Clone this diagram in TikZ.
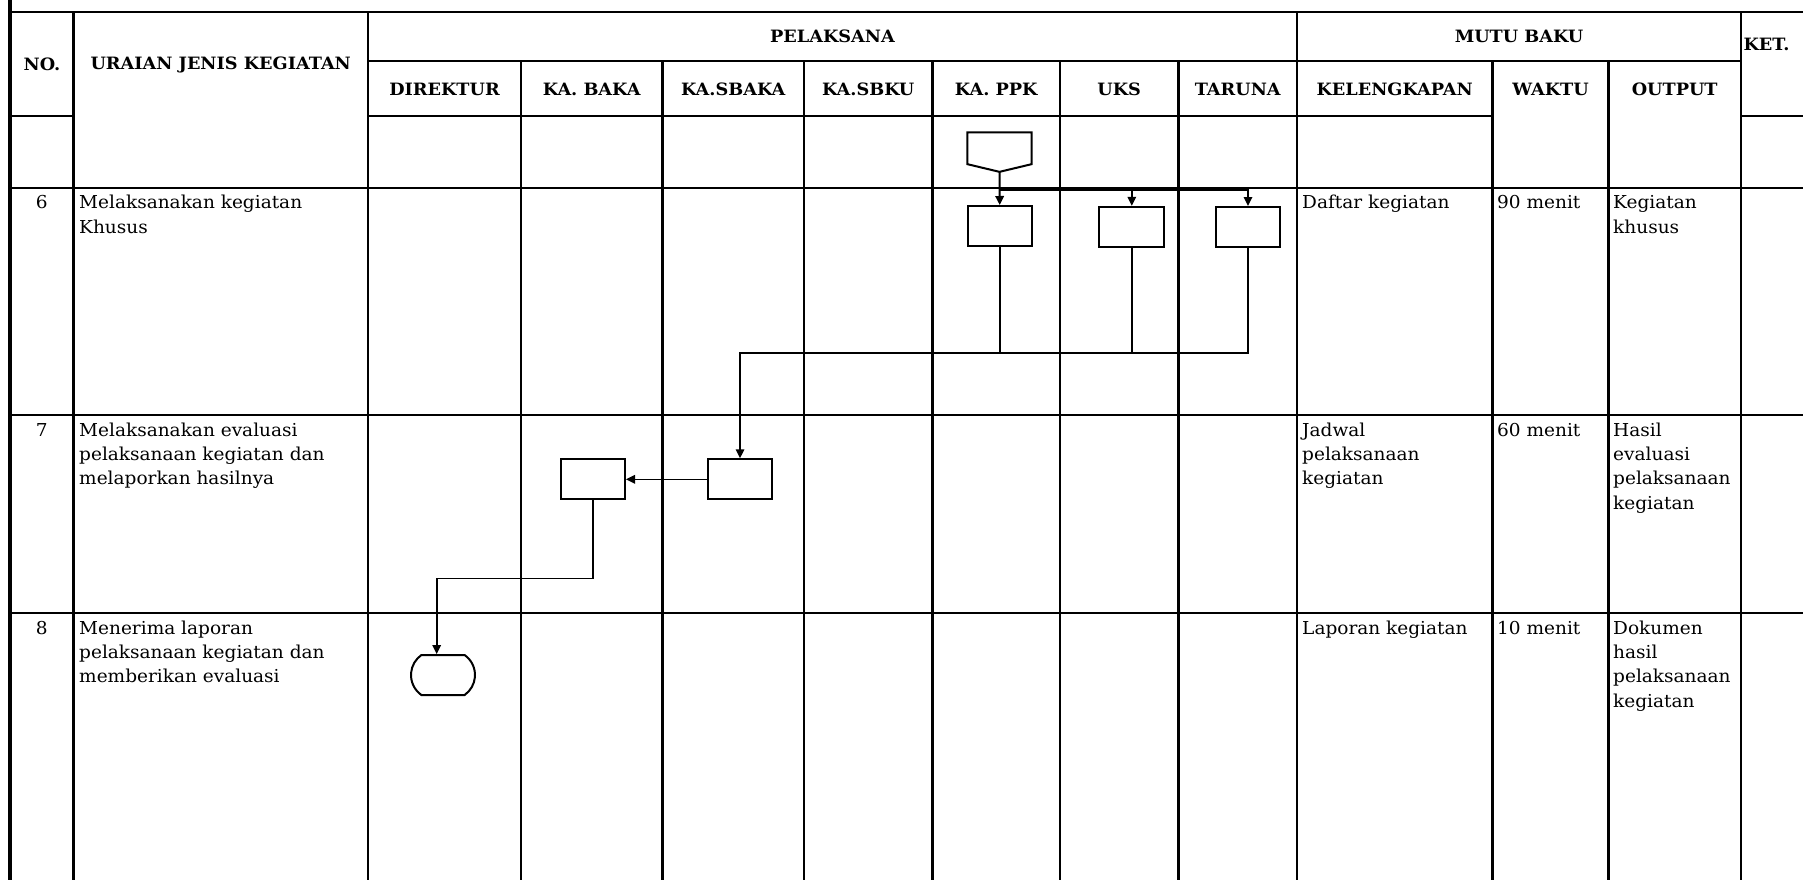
\documentclass[tikz,border=0pt]{standalone}
\usepackage{fontspec}
\setmainfont{DejaVu Serif}[FakeStretch=1.04]
\usetikzlibrary{arrows.meta,shapes.misc,calc}
\begin{document}
\begin{tikzpicture}[x=1pt,y=-1pt,
  gridline/.style={line width=2.2pt, line cap=rect},
  borderline/.style={line width=3.6pt},
  hdr/.style={font=\bfseries\fontsize{17}{20}\selectfont, inner sep=0},
  body/.style={font=\fontsize{17.8}{24.4}\selectfont, inner sep=0, anchor=north west, align=left},
  num/.style={font=\fontsize{17.8}{24.4}\selectfont, inner sep=0, anchor=north},
  procbox/.style={draw, line width=2pt, minimum width=64pt, minimum height=40pt, inner sep=0},
  conn/.style={line width=1.6pt},
  arr/.style={-{Triangle[length=9pt,width=8.5pt]}}]
\useasboundingbox (0,0) rectangle (1803,880);
% ---------- grid ----------
\draw[borderline] (10,0) -- (10,880);
\draw[gridline] (10,12) -- (1803,12);
\draw[gridline] (368,61) -- (1741,61);
\draw[gridline] (10,115.7) -- (73.5,115.7);
\draw[gridline] (368,115.7) -- (1492.5,115.7);
\draw[gridline] (1741,115.7) -- (1803,115.7);
\draw[gridline] (10,187.7) -- (1803,187.7);
\draw[gridline] (10,415) -- (1803,415);
\draw[gridline] (10,613) -- (1803,613);
\foreach \x in {73.5,368,1297,1741} \draw[gridline] (\x,12) -- (\x,880);
\foreach \x in {521,662.5,804,932.5,1060,1178.5,1492.5,1608.5} \draw[gridline] (\x,61) -- (\x,880);
% ---------- header text ----------
\node[hdr] (hno) at (42,64.5) {NO.};
\node[hdr] (hur) at (220.7,64.5) {URAIAN JENIS KEGIATAN};
\node[hdr] (hpel) at (832.5,36.5) {PELAKSANA};
\node[hdr] (hmutu) at (1519,36.5) {MUTU BAKU};
\node[hdr] (hket) at (1766.5,44) {KET.};
\node[hdr] (hdir) at (444.5,89.5) {DIREKTUR};
\node[hdr] (hbaka) at (591.7,89.5) {KA. BAKA};
\node[hdr] (hsbaka) at (733.2,89.5) {KA.SBAKA};
\node[hdr] (hsbku) at (868.2,89.5) {KA.SBKU};
\node[hdr] (hppk) at (996.2,89.5) {KA. PPK};
\node[hdr] (huks) at (1119.2,89.5) {UKS};
\node[hdr] (htar) at (1237.7,89.5) {TARUNA};
\node[hdr] (hkel) at (1394.7,89.5) {KELENGKAPAN};
\node[hdr] (hwak) at (1550.5,89.5) {WAKTU};
\node[hdr] (hout) at (1674.7,89.5) {OUTPUT};
% ---------- row texts ----------
% row 6 (top 187.7)
\node[num] (n6) at (41.7,191.6) {\strut 6};
\node[body] (u6) at (79,191.6) {\strut Melaksanakan kegiatan\\Khusus};
\node[body] (k6) at (1302,191.6) {\strut Daftar kegiatan};
\node[body] (w6) at (1497,191.6) {\strut 90 menit};
\node[body] (o6) at (1613,191.6) {\strut Kegiatan\\khusus};
% row 7 (top 415)
\node[num] (n7) at (41.7,418.9) {\strut 7};
\node[body] (u7) at (79,418.9) {\strut Melaksanakan evaluasi\\pelaksanaan kegiatan dan\\melaporkan hasilnya};
\node[body] (k7) at (1302,418.9) {\strut Jadwal\\pelaksanaan\\kegiatan};
\node[body] (w7) at (1497,418.9) {\strut 60 menit};
\node[body] (o7) at (1613,418.9) {\strut Hasil\\evaluasi\\pelaksanaan\\kegiatan};
% row 8 (top 613)
\node[num] (n8) at (41.7,616.9) {\strut 8};
\node[body] (u8) at (79,616.9) {\strut Menerima laporan\\pelaksanaan kegiatan dan\\memberikan evaluasi};
\node[body] (k8) at (1302,616.9) {\strut Laporan kegiatan};
\node[body] (w8) at (1497,616.9) {\strut 10 menit};
\node[body] (o8) at (1613,616.9) {\strut Dokumen\\hasil\\pelaksanaan\\kegiatan};
% ---------- flow shapes ----------
\node[inner sep=0, minimum width=64pt, minimum height=31.3pt] (doc) at (999.5,148.3) {};
\draw[line width=2pt, line join=miter] (doc.north west) -- (doc.north east) -- (doc.south east)
  -- ($(doc.south)+(0,7.7)$) coordinate (doctip) -- (doc.south west) -- cycle;
\node[procbox] (ppk) at (999.7,226) {};
\node[procbox, minimum width=65pt] (uks) at (1131.8,226.8) {};
\node[procbox, minimum width=63.4pt] (tar) at (1248,227) {};
\node[procbox, minimum width=63.4pt] (sbaka) at (740,479.3) {};
\node[procbox] (baka) at (593,479.3) {};
\node[draw, line width=2pt, rounded rectangle, rounded rectangle arc length=110,
      minimum width=64pt, minimum height=40pt, inner sep=0] (term) at (443,675) {};
% ---------- connectors ----------
\coordinate (bus) at (999.5,189.2);
\coordinate (join) at (740,352.7);
\coordinate (bend) at (436.7,578.3);
\draw[line width=2pt, arr] (doctip) -- (ppk.north);
\draw[line width=2.6pt] (bus) -- (tar.north |- bus);
\draw[conn, arr] (bus -| uks.north) -- (uks.north);
\draw[conn, arr] (bus -| tar.north) -- (tar.north);
\draw[conn] (tar.south) |- (join);
\draw[conn] (uks.south) |- (join);
\draw[conn, arr] (ppk.south) |- (join) -- (sbaka.north);
\draw[conn, arr] (sbaka.west) -- (baka.east);
\draw[conn] (baka.south) |- (bend);
\draw[conn, arr] (bend) -- (bend |- term.north);
\end{tikzpicture}
\end{document}
